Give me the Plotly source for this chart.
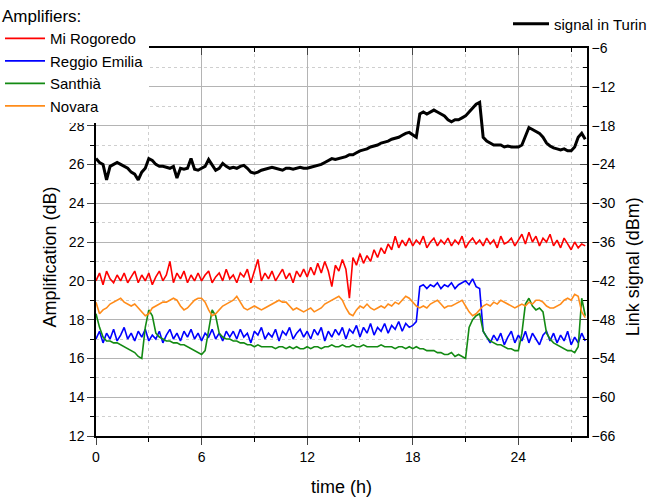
import plotly.graph_objects as go

# time grid (h), one sample every 0.2 h
time_h = [round(i * 0.2, 1) for i in range(140)]

# Amplification (dB)
mi_rogoredo = [
    20.0, 20.4, 19.8, 20.5, 20.1, 19.9, 20.3, 20.0, 20.4, 19.9,
    20.2, 20.5, 19.9, 20.3, 20.0, 20.4, 19.8, 20.2, 20.5, 20.0,
    20.3, 21.0, 19.9, 20.4, 20.1, 20.5, 19.9, 20.3, 20.0, 20.4,
    20.0, 20.3, 20.5, 19.9, 20.2, 20.4, 20.0, 20.6, 20.1, 20.3,
    19.9, 20.4, 20.2, 20.6, 19.9, 20.5, 21.1, 20.0, 20.4, 20.1,
    20.5, 20.0, 20.3, 20.6, 20.1, 20.4, 19.9, 20.5, 20.2, 20.6,
    20.2, 20.7, 20.3, 20.9, 20.4, 21.0, 20.5, 19.7, 20.8, 20.5,
    21.1, 20.6, 19.1, 21.2, 20.8, 21.4, 20.9, 21.3, 21.0, 21.6,
    21.2, 21.7, 21.4, 21.9, 21.6, 22.3, 21.7, 22.1, 21.8, 22.2,
    21.8, 22.1, 21.9, 22.3, 21.7, 22.0, 22.2, 21.8, 22.1, 21.9,
    22.2, 21.8, 22.1, 21.9, 22.3, 21.7, 22.0, 22.2, 21.9, 22.1,
    21.8, 22.2, 21.9, 22.1, 21.7, 22.3, 21.9, 22.0, 22.2, 21.8,
    22.1, 22.4, 21.9, 22.5, 22.0, 22.3, 21.8, 22.2, 22.0, 22.4,
    21.8, 22.1, 21.7, 22.2, 21.9, 21.6, 22.0, 21.7, 21.9, 21.8,
]
reggio_emilia = [
    17.0, 17.4, 16.8, 17.3, 17.0, 17.5, 16.9, 17.2, 17.6, 17.0,
    17.3, 16.9, 17.4, 17.1, 17.5, 16.9, 17.2, 17.0, 17.4, 16.8,
    17.2, 17.5, 17.0, 17.3, 16.9, 17.4, 17.1, 17.5, 17.0, 17.3,
    16.9, 17.3, 17.1, 17.5, 17.0, 17.3, 16.9, 17.4, 17.1, 17.4,
    17.0, 17.5, 17.1, 17.3, 16.8, 17.4, 17.2, 17.6, 17.0, 17.3,
    17.1, 17.5, 16.9, 17.4, 17.2, 17.6, 17.0, 17.3, 17.5, 17.1,
    17.4, 17.0, 17.5, 17.2, 17.6, 16.9, 17.4, 17.1, 17.5, 17.2,
    17.6, 17.0, 17.5, 17.3, 17.7, 17.1, 17.6, 17.3, 17.8, 17.2,
    17.6, 17.4, 17.8, 17.3, 17.7, 17.5, 17.9, 17.4, 17.8, 17.6,
    17.7, 17.9, 19.7, 19.8, 19.6, 19.8, 19.7, 19.9, 19.6, 19.8,
    19.7, 19.9, 19.6, 19.8, 19.9, 20.0, 19.8, 20.1, 19.7, 19.6,
    17.4, 17.1, 16.8, 17.2, 16.9, 17.3, 16.7, 17.1, 17.4, 16.8,
    17.2, 16.9, 17.4, 16.8, 17.3, 17.0, 16.7, 17.2, 17.4, 16.9,
    17.3, 16.8, 17.2, 16.9, 17.4, 16.7, 17.1, 16.8, 17.3, 16.9,
]
santhia = [
    18.3, 17.6, 17.1, 16.9, 16.9, 16.8, 16.8, 16.7, 16.6, 16.5,
    16.4, 16.3, 16.1, 16.0, 17.6, 18.5, 18.2, 17.3, 17.1, 17.0,
    16.9, 16.9, 16.8, 16.8, 16.7, 16.7, 16.6, 16.5, 16.4, 16.3,
    16.2, 16.4, 17.4, 18.5, 18.2, 17.3, 17.1, 17.0, 17.0, 16.9,
    16.9, 16.8, 16.8, 16.7, 16.7, 16.6, 16.7, 16.6, 16.6, 16.6,
    16.6, 16.5, 16.6, 16.6, 16.5, 16.6, 16.5, 16.6, 16.5, 16.5,
    16.6, 16.5, 16.6, 16.6, 16.5, 16.6, 16.6, 16.7, 16.6, 16.6,
    16.7, 16.6, 16.6, 16.7, 16.6, 16.6, 16.7, 16.6, 16.6, 16.6,
    16.6, 16.7, 16.6, 16.6, 16.6, 16.5, 16.6, 16.6, 16.5, 16.6,
    16.5, 16.6, 16.5, 16.5, 16.4, 16.4, 16.4, 16.3, 16.3, 16.2,
    16.2, 16.3, 16.1, 16.2, 16.1, 16.0, 17.6, 18.0, 18.2, 18.3,
    17.4, 17.1, 16.9, 16.8, 16.7, 16.7, 16.6, 16.5, 16.5, 16.4,
    16.4, 17.3, 18.8, 19.1, 18.7, 18.5, 18.6, 18.4, 17.3, 17.0,
    16.8, 16.7, 16.6, 16.5, 16.4, 16.4, 16.3, 16.6, 19.1, 18.2,
]
novara = [
    18.9, 18.3, 18.5, 18.6, 18.8, 18.9, 19.0, 19.1, 18.9, 18.8,
    18.7, 18.8, 18.6, 18.4, 18.2, 18.3, 18.6, 18.7, 18.8, 18.9,
    18.9, 19.0, 19.1, 19.0, 18.7, 18.5, 18.6, 18.8, 19.0, 19.1,
    19.1, 18.9, 18.5, 18.2, 18.3, 18.5, 18.7, 18.8, 18.9, 19.0,
    19.2, 18.9, 18.6, 18.5, 18.6, 18.7, 18.6, 18.5, 18.6, 18.7,
    18.8, 18.9, 19.0, 18.9, 18.9, 18.7, 18.5, 18.6, 18.5, 18.4,
    18.5, 18.6, 18.4, 18.5, 18.6, 18.8, 18.9, 19.0, 19.1, 19.2,
    19.0, 18.6, 18.3, 18.2, 18.5, 18.7, 18.6, 18.8, 18.6, 18.5,
    18.6, 18.7, 18.6, 18.8, 18.7, 18.9, 18.8, 19.0, 19.2, 19.1,
    18.9, 18.7, 18.6, 18.7, 18.6, 18.8, 18.9, 19.0, 18.8, 18.6,
    18.7, 18.7, 18.8, 18.9, 19.0, 18.7, 18.4, 18.2, 18.3, 18.5,
    18.7, 18.8, 18.7, 18.9, 18.8, 19.0, 18.9, 18.8, 18.7, 18.6,
    18.7, 18.8, 18.7, 18.9, 18.8, 19.0, 19.0, 18.9, 18.7, 18.6,
    18.6, 18.7, 18.8, 19.0, 19.1, 19.0, 19.3, 19.2, 18.4, 18.1,
]
# Link signal (dBm)
signal_turin = [
    -23.1, -23.7, -24.0, -26.4, -24.3, -24.0, -23.7, -24.0, -24.3, -24.6,
    -25.2, -25.5, -26.4, -25.2, -24.6, -23.1, -23.4, -24.0, -24.3, -24.3,
    -24.45, -24.6, -24.3, -26.1, -24.6, -24.75, -24.6, -23.1, -24.75, -24.9,
    -24.6, -24.3, -23.25, -24.0, -24.9, -24.6, -23.85, -24.3, -24.6, -24.45,
    -24.6, -24.3, -24.15, -24.6, -25.2, -25.35, -25.2, -24.9, -24.75, -24.6,
    -24.45, -24.6, -24.75, -24.9, -24.6, -24.6, -24.75, -24.6, -24.45, -24.6,
    -24.6, -24.45, -24.3, -24.15, -24.0, -23.7, -23.4, -23.1, -23.25, -23.1,
    -22.95, -22.8, -22.5, -22.5, -22.2, -21.9, -21.75, -21.6, -21.3, -21.15,
    -21.0, -20.7, -20.55, -20.4, -20.1, -19.95, -19.8, -19.5, -19.2, -19.05,
    -19.5, -19.8, -16.2, -15.9, -16.2, -15.9, -15.6, -15.9, -16.2, -16.5,
    -17.1, -17.4, -17.1, -17.1, -16.8, -16.5, -15.9, -15.3, -14.7, -14.4,
    -19.8, -20.4, -20.7, -21.0, -21.0, -21.0, -21.3, -21.15, -21.3, -21.3,
    -21.3, -21.0, -19.5, -18.3, -18.6, -18.9, -19.2, -19.8, -20.7, -21.15,
    -21.45, -21.6, -21.75, -21.6, -21.9, -21.9, -21.3, -19.8, -19.2, -20.1,
]

x_ticks = [0, 6, 12, 18, 24]
amp_ticks = [12, 14, 16, 18, 20, 22, 24, 26, 28, 30, 32]
amp_labels = ["12", "14", "16", "18", "20", "22", "24", "26", "28", "", ""]

FONT = "Liberation Sans, Arial, sans-serif"

fig = go.Figure()
amp_series = [
    ("Mi Rogoredo", mi_rogoredo, "#ff0000"),
    ("Reggio Emilia", reggio_emilia, "#0000ff"),
    ("Santhià", santhia, "#138a13"),
    ("Novara", novara, "#ff8c1a"),
]
for name, vals, col in amp_series:
    fig.add_trace(go.Scatter(x=time_h, y=vals, name=name, mode="lines",
                             line=dict(color=col, width=1.6), legend="legend"))

fig.add_trace(go.Scatter(x=time_h, y=signal_turin, name="signal in Turin", mode="lines",
                         line=dict(color="black", width=3), yaxis="y2", legend="legend2"))
# invisible trace to carry top axis
fig.add_trace(go.Scatter(x=[0], y=[12], xaxis="x2", showlegend=False,
                         mode="markers", marker=dict(opacity=0), hoverinfo="skip"))

grid_col = "#b4b4b4"
minor_grid = "#cfcfcf"
fig.update_layout(
    width=652, height=500,
    margin=dict(l=96, r=65, t=48, b=64, autoexpand=False),
    paper_bgcolor="white", plot_bgcolor="white",
    font=dict(family=FONT, size=14, color="black"),
    xaxis=dict(range=[0, 27.9], tickvals=x_ticks, ticks="outside", ticklen=7,
               showline=True, linecolor="black", linewidth=1.5,
               showgrid=True, gridcolor=grid_col, gridwidth=1, zeroline=False,
               minor=dict(dtick=3, ticks="outside", ticklen=4, showgrid=True,
                          gridcolor=minor_grid, griddash="dot", tickcolor="black"),
               tickfont=dict(size=14)),
    xaxis2=dict(range=[0, 27.9], overlaying="x", side="top", tickvals=x_ticks,
                ticks="inside", ticklen=7, showticklabels=False, showline=True,
                linecolor="black", linewidth=1.5, showgrid=False, zeroline=False,
                minor=dict(dtick=3, ticks="inside", ticklen=4, tickcolor="black")),
    yaxis=dict(range=[12, 32], tickvals=amp_ticks, ticktext=amp_labels,
               ticks="outside", ticklen=7,
               showline=True, linecolor="black", linewidth=1.5,
               showgrid=True, gridcolor=grid_col, zeroline=False,
               minor=dict(dtick=1, ticks="outside", ticklen=4, showgrid=True,
                          gridcolor=minor_grid, griddash="dot", tickcolor="black"),
               tickfont=dict(size=14)),
    yaxis2=dict(range=[-66, -6], dtick=6, overlaying="y", side="right",
                ticks="inside", ticklen=7, showline=True, linecolor="black",
                linewidth=1.5, showgrid=False, zeroline=False,
                minor=dict(dtick=3, ticks="inside", ticklen=4, tickcolor="black"),
                tickfont=dict(size=14)),
    legend=dict(xref="container", yref="container", x=0.0, y=1.035,
                xanchor="left", yanchor="top", bgcolor="white",
                title=dict(text="Amplifiers:", font=dict(size=17)),
                font=dict(size=15), itemwidth=40, tracegroupgap=0,
                borderwidth=0),
    legend2=dict(xref="container", yref="container", x=1.0, y=0.985,
                 xanchor="right", yanchor="top", bgcolor="rgba(0,0,0,0)",
                 font=dict(size=15), itemwidth=36, borderwidth=0),
    showlegend=True,
    annotations=[
        dict(text="Amplification (dB)", xref="paper", yref="paper",
             x=-46 / 491, y=0.46, textangle=-90, showarrow=False,
             xanchor="center", yanchor="middle", font=dict(size=18)),
        dict(text="Link signal (dBm)", xref="paper", yref="paper",
             x=1 + 46 / 491, y=0.435, textangle=-90, showarrow=False,
             xanchor="center", yanchor="middle", font=dict(size=18)),
        dict(text="time (h)", xref="paper", yref="paper",
             x=0.499, y=-51 / 388, showarrow=False,
             xanchor="center", yanchor="middle", font=dict(size=18)),
    ],
)

fig.write_html("out.html")
